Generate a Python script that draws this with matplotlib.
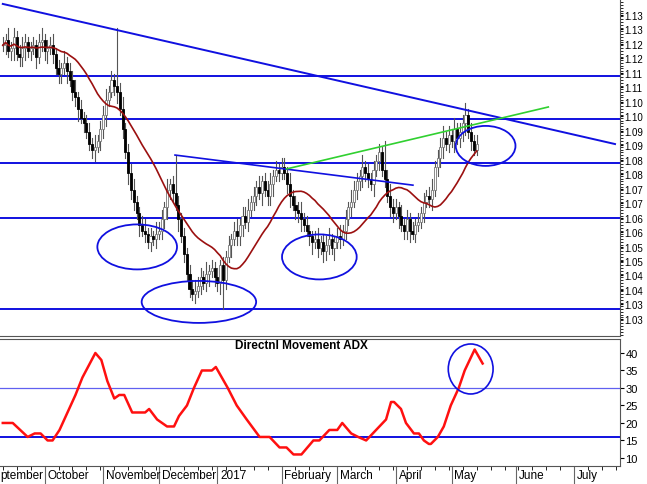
import matplotlib
matplotlib.use("Agg")
import matplotlib.pyplot as plt
from matplotlib.patches import Ellipse
import numpy as np
import pandas as pd

plt.rcParams['font.family'] = ['Liberation Sans', 'DejaVu Sans']

closes = [1.122,1.124,1.120,1.121,1.125,1.119,1.118,1.121,1.123,1.120,
          1.121,1.122,1.118,1.123,1.124,1.120,1.121,1.122,1.119,1.114,
          1.112,1.114,1.116,1.113,1.110,1.106,1.104,1.100,1.097,1.095,
          1.092,1.088,1.086,1.087,1.089,1.093,1.098,1.103,1.106,1.110,
          1.108,1.106,1.100,1.093,1.085,1.078,1.072,1.068,1.064,1.060,
          1.058,1.057,1.054,1.056,1.055,1.057,1.058,1.062,1.066,1.072,
          1.074,1.071,1.067,1.062,1.056,1.050,1.043,1.038,1.036,1.037,
          1.039,1.042,1.040,1.043,1.044,1.045,1.042,1.040,1.046,1.041,
          1.049,1.053,1.055,1.058,1.056,1.060,1.063,1.061,1.065,1.068,
          1.070,1.073,1.071,1.075,1.072,1.070,1.074,1.077,1.079,1.078,
          1.080,1.078,1.074,1.070,1.067,1.065,1.064,1.062,1.060,1.058,
          1.056,1.054,1.055,1.052,1.054,1.051,1.053,1.055,1.052,1.054,
          1.056,1.055,1.058,1.062,1.066,1.068,1.072,1.075,1.077,1.080,
          1.078,1.076,1.074,1.079,1.082,1.085,1.079,1.076,1.070,1.066,
          1.064,1.066,1.063,1.060,1.058,1.062,1.058,1.057,1.060,1.061,
          1.064,1.068,1.070,1.069,1.072,1.080,1.083,1.087,1.090,1.088,
          1.091,1.089,1.093,1.090,1.092,1.095,1.098,1.092,1.089,1.086,1.088]
# wick sizes in 0.001 units
up_wick = ("3242323432" "2323423342" "3242334232" "3324233423" "2234233422"
           "3423243324" "2323232334" "3324232323" "2323423342" "3242334232"
           "3324233423" "2234233422" "3423243324" "2323232334" "3324232323"
           "2323423342" "3242334232" "3")
dn_wick = ("2323423342" "3242334232" "3324233423" "2234233422" "3423243324"
           "2323232334" "3324232323" "2323423342" "3242334232" "3324233423"
           "2234233422" "3423243324" "2323232334" "3324232323" "3242334232"
           "2323423342" "3242334232" "2")
spike_up = {41: 20, 62: 13, 137: 10, 165: 3}
spike_dn = {79: 10}

adx_x = [0,10,25,32,38,45,50,57,73,80,93,99,105,112,117,122,130,143,147,155,165,172,177,185,192,200,
         210,214,222,226,235,245,258,268,278,285,292,300,312,318,328,336,341,350,357,365,375,385,390,
         393,400,405,413,418,423,428,430,437,443,450,458,464,474,482]
adx_v = [20,20,16,17,17,15,15,18,28,33,40,38,32,27,28,28,23,23,24,21,19,19,22,25,30,35,
         35,36,32,30,25,21,16,16,13,13,11,11,15,15,18,18,20,17,16,15,18,21,26,
         26,24,20,17,17,15,14,14,16,19,25,30,35,41,37]

h_levels = [1.0310, 1.0624, 1.0814, 1.0966, 1.1115]
month_labels = ['ptember', 'October', 'November', 'December', '2017', 'February', 'March', 'April', 'May', 'June', 'July']
month_bars = [15, 36, 56, 77, 100, 120, 141, 161, 184, 205]

PXB = 2.8
n = len(closes)
opens = [closes[0]] + closes[:-1]
ups = [int(c) for c in up_wick][:n]
dns = [int(c) for c in dn_wick][:n]
for k, v in spike_up.items(): ups[k] = v
for k, v in spike_dn.items(): dns[k] = v
highs = [max(o, c) + u / 1000 for o, c, u in zip(opens, closes, ups)]
lows = [min(o, c) - d / 1000 for o, c, d in zip(opens, closes, dns)]
ma = pd.Series(closes).rolling(20, min_periods=1).mean()

fig = plt.figure(figsize=(6.47, 4.85), dpi=100)
ax = fig.add_axes([0, 1 - 337 / 485, 620 / 647, 337 / 485])
ax2 = fig.add_axes([0, 1 - 467 / 485, 620 / 647, 127 / 485])
xmax = 620 / PXB
for a in (ax, ax2):
    a.set_xlim(-1, xmax)
    a.yaxis.tick_right()
    a.spines['left'].set_visible(False)
    for s in ['right', 'bottom', 'top']:
        a.spines[s].set_color('#555555')
ax.spines['top'].set_visible(False)

# candles
for i in range(n):
    o, c = opens[i], closes[i]
    col = 'black' if c < o else '#777777'
    ax.plot([i, i], [lows[i], highs[i]], color='#555555', lw=0.8, zorder=2)
    face = 'black' if c < o else 'white'
    ax.bar(i, max(abs(c - o), 0.0004), bottom=min(o, c), width=0.75, color=face,
           edgecolor=col, lw=0.6, zorder=3)
ax.plot(range(n), ma, color='#9B1010', lw=1.2, zorder=4)
for lv in h_levels:
    ax.axhline(lv, color='#1010E0', lw=1.4, zorder=1)
ax.plot([0, 615 / PXB], [1.1363, 1.0879], color='#1010E0', lw=1.4, zorder=5)
ax.plot([173 / PXB, 412 / PXB], [1.0841, 1.0737], color='#1010E0', lw=1.2, zorder=5)
ax.plot([285 / PXB, 548 / PXB], [1.0793, 1.1007], color='#30D030', lw=1.2, zorder=5)
for cx, cy, w, h in [(135, 248, 80, 45), (197, 303, 115, 42), (318, 258, 75, 45), (485, 147, 60, 40)]:
    ax.add_patch(Ellipse((cx / PXB, 1.0275 + (320 - cy) / 2895), w / PXB, h / 2895,
                         fill=False, ec='#1010E0', lw=1.3, zorder=6))
ax.set_ylim(1.0216, 1.138)
ticks = [1.0275 + 0.005 * k for k in range(22)]
ax.set_yticks(ticks)
ax.set_yticklabels(['%.2f' % (t + 0.0001) for t in ticks], fontsize=7)
ax.yaxis.set_minor_locator(matplotlib.ticker.MultipleLocator(0.001))
ax.tick_params(axis='y', which='both', length=2, pad=1)
ax.set_xticks([])

# ADX panel
ax2.plot(np.array(adx_x) / PXB, adx_v, color='#FF1010', lw=1.8, zorder=3)
ax2.axhline(30, color='#6060F0', lw=0.9)
ax2.axhline(16, color='#1010E0', lw=1.4)
ax2.add_patch(Ellipse((470 / PXB, 10 + (459 - 370) / 3.5), 45 / PXB, 50 / 3.5,
                      fill=False, ec='#1010E0', lw=1.2, zorder=5))
ax2.set_ylim(7.7, 44)
ax2.set_yticks([10, 15, 20, 25, 30, 35, 40])
ax2.tick_params(axis='y', labelsize=8, length=3, pad=1)
ax2.text(300 / PXB, 42.3, 'Directnl Movement ADX', fontsize=8.5, fontweight='bold', ha='center', va='center')

ax2.set_xticks(month_bars)
ax2.set_xticklabels([])
ax2.tick_params(axis='x', length=18, direction='out', color='#666666')
ax2.xaxis.set_minor_locator(matplotlib.ticker.MultipleLocator(5))
ax2.tick_params(axis='x', which='minor', length=3)
starts = [-1] + [m + 1 for m in month_bars]
for xpos, lab in zip(starts, month_labels):
    ax2.text(xpos, -0.02, lab, transform=ax2.get_xaxis_transform(), fontsize=8.5,
             ha='left', va='top')

fig.savefig('out.png', dpi=100)
